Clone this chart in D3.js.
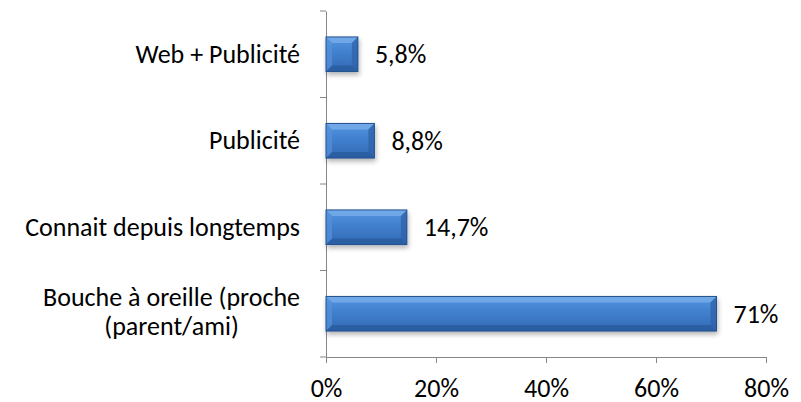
<!DOCTYPE html>
<html><head><meta charset="utf-8">
<script src="https://cdn.jsdelivr.net/npm/d3@7/dist/d3.min.js"></script>
<style>body{margin:0;background:#fff}svg{display:block}text{font-family:Carlito,Lato,"Open Sans",sans-serif;fill:#000}</style>
</head><body><svg id="c" width="801" height="402"></svg>
<script>
const categories = ["Web + Publicité","Publicité","Connait depuis longtemps","Bouche à oreille (proche (parent/ami)"];
const categoryLines = [["Web + Publicité"],["Publicité"],["Connait depuis longtemps"],["Bouche à oreille (proche","(parent/ami)"]];
const values = [5.8, 8.8, 14.7, 71];
const valueLabels = ["5,8%","8,8%","14,7%","71%"];
const xTicks = [0,20,40,60,80];
const xTickLabels = ["0%","20%","40%","60%","80%"];

const FS = 26;
const svg = d3.select("#c");
const m = {left:326, right:35, top:11, bottom:45};
const W = 801, H = 402;
const x = d3.scaleLinear().domain([0,80]).range([m.left, W-m.right]);
const y = d3.scaleBand().domain(categories).range([m.top, H-m.bottom]).paddingInner(0.6).paddingOuter(0.3);
const band = d3.scaleBand().domain(categories).range([m.top, H-m.bottom]);

const defs = svg.append("defs");
const g = defs.append("linearGradient").attr("id","bg").attr("x1",0).attr("y1",0).attr("x2",0).attr("y2",1);
g.append("stop").attr("offset","0%").attr("stop-color","#5596e0");
g.append("stop").attr("offset","40%").attr("stop-color","#4282d0");
g.append("stop").attr("offset","100%").attr("stop-color","#3369b5");
const f = defs.append("filter").attr("id","sh").attr("x","-10%").attr("y","-20%").attr("width","130%").attr("height","160%");
f.append("feGaussianBlur").attr("in","SourceAlpha").attr("stdDeviation",2.5);
f.append("feOffset").attr("dx",1).attr("dy",3).attr("result","o");
f.append("feComponentTransfer").append("feFuncA").attr("type","linear").attr("slope",0.3);
const fm = f.append("feMerge"); fm.append("feMergeNode"); fm.append("feMergeNode").attr("in","SourceGraphic");

// axes
const gx = svg.append("g").attr("transform",`translate(0,${H-m.bottom})`)
  .call(d3.axisBottom(x).tickValues(xTicks).tickFormat((d,i)=>xTickLabels[i]).tickSize(6).tickSizeOuter(0));
gx.select(".domain").attr("stroke","#868686");
gx.selectAll(".tick line").attr("stroke","#868686");
gx.selectAll(".tick text").attr("font-size",FS).attr("y",22).attr("dy","0.71em").attr("fill","#000").style("font-family","Carlito,Lato,sans-serif");

const gy = svg.append("g").attr("transform",`translate(${m.left},0)`)
  .call(d3.axisLeft(band).tickSize(0).tickFormat(""));
gy.select(".domain").attr("stroke","#868686");
gy.selectAll(".tick").remove();
const bounds = [m.top, ...categories.map(c=>band(c)+band.bandwidth())];
gy.selectAll("line.t").data(bounds).enter().append("line")
  .attr("x1",-6).attr("x2",0).attr("y1",d=>d).attr("y2",d=>d).attr("stroke","#868686");

// bars
const bars = svg.append("g").selectAll("g").data(categories).enter().append("g").attr("filter","url(#sh)");
bars.each(function(c,i){
  const gg = d3.select(this);
  const x0 = x(0), x1 = x(values[i]), y0 = y(c), h = y.bandwidth(), y1 = y0+h;
  const b = Math.min(6, (x1-x0)/2);
  gg.append("rect").attr("x",x0).attr("y",y0).attr("width",x1-x0).attr("height",h).attr("fill","url(#bg)");
  gg.append("path").attr("d",`M${x0},${y0}L${x1},${y0}L${x1-b},${y0+b}L${x0+b},${y0+b}Z`).attr("fill","#78aeea").attr("opacity",0.8);
  gg.append("path").attr("d",`M${x0},${y1}L${x1},${y1}L${x1-b},${y1-b}L${x0+b},${y1-b}Z`).attr("fill","#28599a").attr("opacity",0.7);
  gg.append("path").attr("d",`M${x0},${y0}L${x0+b},${y0+b}L${x0+b},${y1-b}L${x0},${y1}Z`).attr("fill","#5592dc").attr("opacity",0.7);
  gg.append("path").attr("d",`M${x1},${y0}L${x1-b},${y0+b}L${x1-b},${y1-b}L${x1},${y1}Z`).attr("fill","#2d62a8").attr("opacity",0.75);
  gg.append("rect").attr("x",x0).attr("y",y0).attr("width",x1-x0).attr("height",h).attr("fill","none").attr("stroke","#23518f").attr("stroke-width",1);
});

// value labels
svg.append("g").selectAll("text").data(categories).enter().append("text")
  .attr("x",(c,i)=>x(values[i])+17).attr("y",c=>y(c)+y.bandwidth()/2).attr("dy","0.34em")
  .attr("font-size",FS).text((c,i)=>valueLabels[i]);

// category labels (multi-line blocks are centred, right edge at x=300)
const labelRight = 300;
const cl = svg.append("g");
categories.forEach((c,i)=>{
  const lines = categoryLines[i], n = lines.length;
  const cy = band(c)+band.bandwidth()/2;
  if (n === 1) {
    cl.append("text").attr("text-anchor","end").attr("font-size",FS)
      .attr("x",labelRight).attr("y",cy).attr("dy","0.32em").text(lines[0]);
  } else {
    const ts = lines.map((l,j)=>cl.append("text").attr("font-size",FS)
      .attr("y",cy).attr("dy",`${-0.28 + j*1.08}em`).text(l));
    const maxW = d3.max(ts, t=>t.node().getComputedTextLength());
    ts.forEach(t=>t.attr("text-anchor","middle").attr("x",labelRight-maxW/2));
  }
});
</script></body></html>
